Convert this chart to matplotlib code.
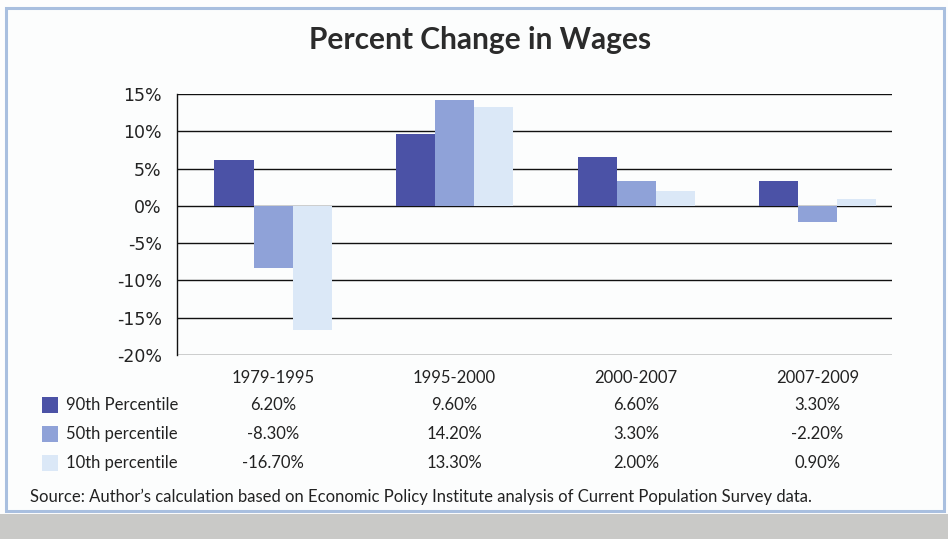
import matplotlib
matplotlib.use("Agg")
import matplotlib.pyplot as plt
from matplotlib.patches import Rectangle
import numpy as np

periods = ["1979-1995", "1995-2000", "2000-2007", "2007-2009"]
series_names = ["90th Percentile", "50th percentile", "10th percentile"]
p90 = [6.2, 9.6, 6.6, 3.3]
p50 = [-8.3, 14.2, 3.3, -2.2]
p10 = [-16.7, 13.3, 2.0, 0.9]
yticks = [-20, -15, -10, -5, 0, 5, 10, 15]
colors = ["#4b52a6", "#8fa2d8", "#dbe8f7"]

W, H = 948, 539
fig = plt.figure(figsize=(W / 100, H / 100), dpi=100)
fig.patch.set_facecolor("#fdfdfd")

def fx(px):
    return px / W

def fy(py):
    return 1 - py / H

# Panel frame and the grey strip underneath
fig.patches.append(Rectangle((0, 0), 1, fy(514), transform=fig.transFigure,
                             facecolor="#c9c9c7", edgecolor="none", zorder=0))
fig.patches.append(Rectangle((fx(6), fy(511)), fx(938), (511 - 8) / H,
                             transform=fig.transFigure, facecolor="#fcfdfd",
                             edgecolor="#a9bfdf", linewidth=2.2, zorder=1))

ax = fig.add_axes([fx(177), fy(355), fx(892 - 177), (355 - 94) / H])
ax.set_facecolor("none")
ax.set_zorder(2)

x = np.arange(len(periods))
bw = 0.215
for i, (vals, c) in enumerate(zip([p90, p50, p10], colors)):
    ax.bar(x + (i - 1) * bw, vals, width=bw, color=c, edgecolor="none", zorder=3)

ax.set_ylim(-20, 15)
ax.set_xlim(-0.529, 3.41)
ax.set_yticks(yticks)
ax.set_yticklabels([f"{v}%" for v in yticks], family="DejaVu Sans",
                   fontsize=12.5, color="#222222")
ax.yaxis.grid(True, color="#111111", linewidth=1.0, zorder=1)
ax.set_axisbelow(True)
ax.tick_params(axis="y", length=0, pad=11)
ax.tick_params(axis="x", length=0, labelbottom=False)
for s in ["top", "right", "bottom"]:
    ax.spines[s].set_visible(False)
ax.spines["left"].set_color("#111111")
ax.spines["left"].set_linewidth(1.0)

fig.text(fx(480), fy(40), "Percent Change in Wages", family="Lato",
         fontweight="bold", fontsize=21.5, color="#2b2b2b", ha="center", va="center")

# Data table below the axes
for j, p in enumerate(periods):
    cx = ax.transData.transform((x[j], 0))[0] / W
    fig.text(cx, fy(378), p, family="Lato", fontsize=12, color="#222222",
             ha="center", va="center")
    for r, vals in enumerate([p90, p50, p10]):
        fig.text(cx, fy(405 + r * 29), f"{vals[j]:.2f}%", family="Lato",
                 fontsize=12, color="#222222", ha="center", va="center")

for r, (name, c) in enumerate(zip(series_names, colors)):
    yc = 405 + r * 29
    fig.patches.append(Rectangle((fx(42), fy(yc + 8)), fx(16), 16 / H,
                                 transform=fig.transFigure, facecolor=c,
                                 edgecolor="none", zorder=3))
    fig.text(fx(66), fy(yc), name, family="Lato", fontsize=12, color="#222222",
             ha="left", va="center")

fig.text(fx(30), fy(497),
         "Source: Author\u2019s calculation based on Economic Policy Institute "
         "analysis of Current Population Survey data.",
         family="Lato", fontsize=12, color="#222222", ha="left", va="center")

fig.savefig("out.png", dpi=100, facecolor=fig.get_facecolor())
